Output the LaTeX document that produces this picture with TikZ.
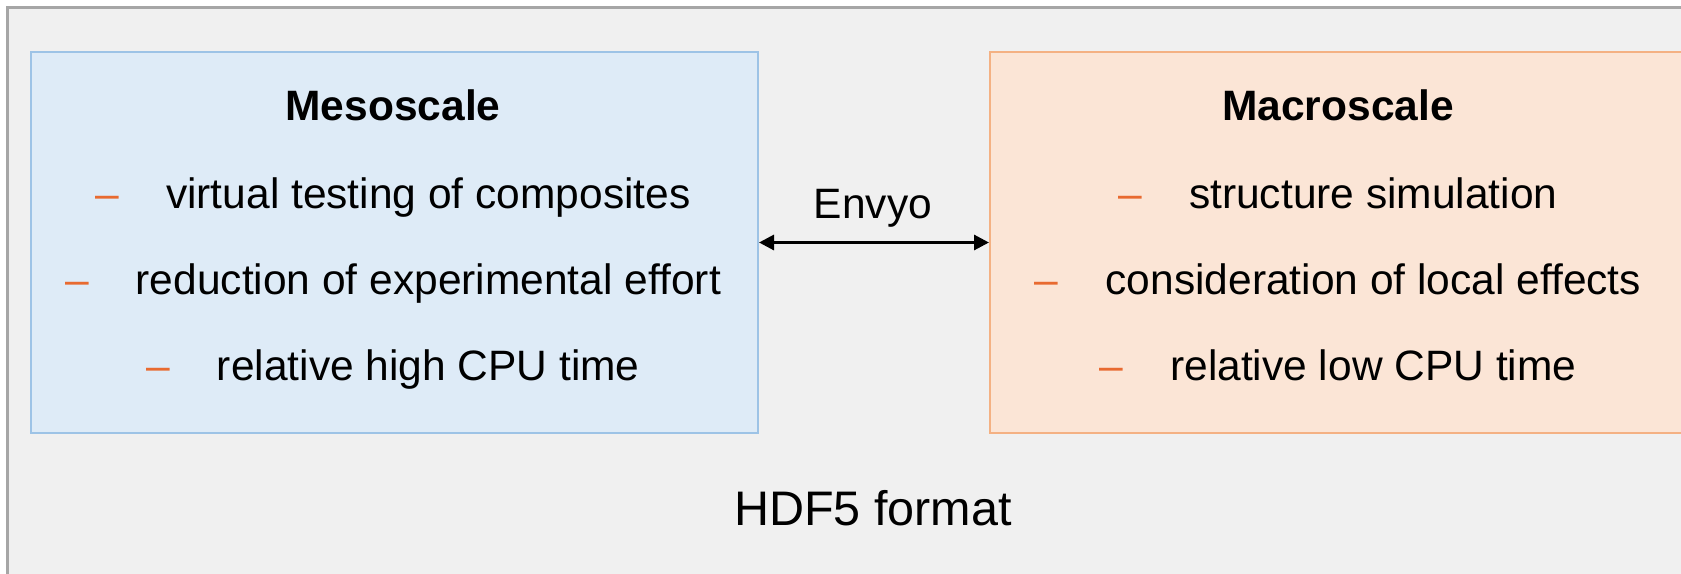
\documentclass[tikz,border=0pt]{standalone}
\usepackage{fontspec}
\setmainfont{Liberation Sans}
\usetikzlibrary{arrows.meta}
\definecolor{framefill}{RGB}{240,240,240}
\definecolor{framedraw}{RGB}{166,166,166}
\definecolor{mesofill}{RGB}{222,235,247}
\definecolor{mesodraw}{RGB}{157,195,230}
\definecolor{macrofill}{RGB}{251,229,214}
\definecolor{macrodraw}{RGB}{244,177,131}
\definecolor{dashc}{RGB}{232,106,48}
\newcommand{\bul}{\textcolor{dashc}{–}\hspace{47pt}}
\begin{document}
\begin{tikzpicture}[x=1pt,y=-1pt,
  txt/.style={font=\fontsize{42.5}{50}\selectfont, inner sep=0pt, anchor=base},
  ttl/.style={txt, font=\fontsize{42.5}{50}\selectfont\bfseries},
  scalebox/.style={line width=2pt, minimum width=727pt, minimum height=381pt, inner sep=0pt, anchor=north west},
  link/.style={line width=3pt, {Triangle[length=15pt,width=15pt]}-{Triangle[length=15pt,width=15pt]}}]
\useasboundingbox (0,0) rectangle (1681,573);
\clip (0,0) rectangle (1681,573);
\fill[white] (0,0) rectangle (1681,573);
\draw[framedraw, line width=2.5pt, fill=framefill] (7.5,7.5) rectangle (1720,620);
\node[scalebox, draw=mesodraw, fill=mesofill] (meso) at (30,51) {};
\node[scalebox, draw=macrodraw, fill=macrofill] (macro) at (989,51) {};
\node[ttl] (mesotitle) at (393,120) {Mesoscale};
\node[txt] (m1) at (393,208) {\bul virtual testing of composites};
\node[txt] (m2) at (393,294) {\bul reduction of experimental effort};
\node[txt] (m3) at (393,380) {\bul relative high CPU time};
\node[ttl] (macrotitle) at (1338,120) {Macroscale};
\node[txt] (r1) at (1338,208) {\bul structure simulation};
\node[txt] (r2) at (1338,294) {\bul consideration of local effects};
\node[txt] (r3) at (1338,380) {\bul relative low CPU time};
\node[txt] (envyo) at (873,218) {Envyo};
\draw[link] (meso.east) -- (macro.west);
\node[txt, font=\fontsize{48.5}{55}\selectfont] (hdf) at (873,525) {HDF5 format};
\end{tikzpicture}
\end{document}
